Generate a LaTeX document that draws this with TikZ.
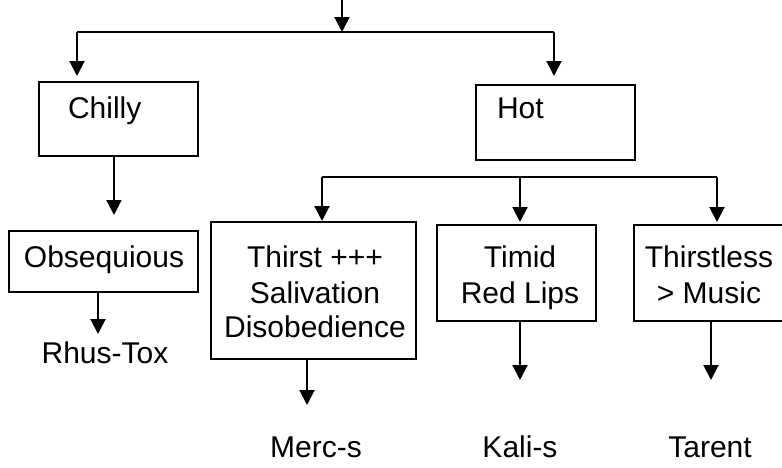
\documentclass[tikz,border=0pt]{standalone}
\usepackage{fontspec}
\setmainfont{Liberation Sans}
\usetikzlibrary{arrows.meta}
\begin{document}
\begin{tikzpicture}[x=1pt,y=-1pt,
  box/.style={draw, line width=2pt, anchor=north west, inner sep=0pt, outer sep=0pt},
  txt/.style={font=\fontsize{30}{35}\selectfont, inner sep=0pt, outer sep=0pt},
  arr/.style={line width=2pt, -{Triangle[length=15pt,width=15pt]}},
  ln/.style={line width=2pt}]
\useasboundingbox (0,0) rectangle (782,467);
\clip (0,0) rectangle (782,467);

% boxes
\node[box, minimum width=159pt, minimum height=74pt] (chilly) at (39,82) {};
\node[box, minimum width=159pt, minimum height=75pt] (hot) at (476,85) {};
\node[box, minimum width=189pt, minimum height=61pt] (obs) at (9,231) {};
\node[box, minimum width=205pt, minimum height=137pt] (thirst) at (211,222) {};
\node[box, minimum width=159pt, minimum height=96pt] (timid) at (437,225) {};
\node[box, minimum width=151pt, minimum height=96pt] (thless) at (634,225) {};

% texts
\node[txt, anchor=base west] (tchilly) at (68,118) {Chilly};
\node[txt, anchor=base west] (thot) at (497,118) {Hot};
\node[txt, anchor=base] (tobs) at (104,267) {Obsequious};
\node[txt, anchor=base] (rhus) at (105,363) {Rhus-Tox};
\node[txt, anchor=base] (th1) at (315,267) {Thirst +++};
\node[txt, anchor=base] (th2) at (315,303) {Salivation};
\node[txt, anchor=base] (th3) at (315,337) {Disobedience};
\node[txt, anchor=base] (ti1) at (520,267) {Timid};
\node[txt, anchor=base] (ti2) at (520,303) {Red Lips};
\node[txt, anchor=base] (tl1) at (709,267) {Thirstless};
\node[txt, anchor=base] (tl2) at (709,303) {> Music};
\node[txt, anchor=base] (merc) at (316,457) {Merc-s};
\node[txt, anchor=base] (kali) at (520,457) {Kali-s};
\node[txt, anchor=base] (tarent) at (710,457) {Tarent};

% top level connectors
\coordinate (top) at (342,0);
\coordinate (j1) at (342,32);
\coordinate (c1) at (77,32);
\coordinate (h1) at (554,32);
\draw[arr] (top) -- (j1);
\draw[ln] (c1) -- (h1);
\draw[arr, shorten >=6pt] (c1) -- (c1 |- chilly.north);
\draw[arr, shorten >=9pt] (h1) -- (h1 |- hot.north);

% chilly branch
\draw[arr, shorten >=16pt] ([xshift=-4.5pt]chilly.south) -- ([xshift=-4.5pt]chilly.south |- obs.north);
\draw[arr] ([xshift=-5.5pt]obs.south) -- ++(0,42);

% hot branch
\coordinate (b1) at (322,177);
\coordinate (b2) at (520,177);
\coordinate (b3) at (717,177);
\draw[ln] (b1) -- (b3);
\draw[arr, shorten >=1pt] (b1) -- (b1 |- thirst.north);
\draw[arr, shorten >=3pt] (b2) -- (b2 |- timid.north);
\draw[arr, shorten >=3pt] (b3) -- (b3 |- thless.north);

\draw[arr] ([xshift=-6.5pt]thirst.south) -- ++(0,46);
\draw[arr] ([xshift=3.5pt]timid.south) -- ++(0,59);
\draw[arr] ([xshift=1.5pt]thless.south) -- ++(0,59);
\end{tikzpicture}
\end{document}
